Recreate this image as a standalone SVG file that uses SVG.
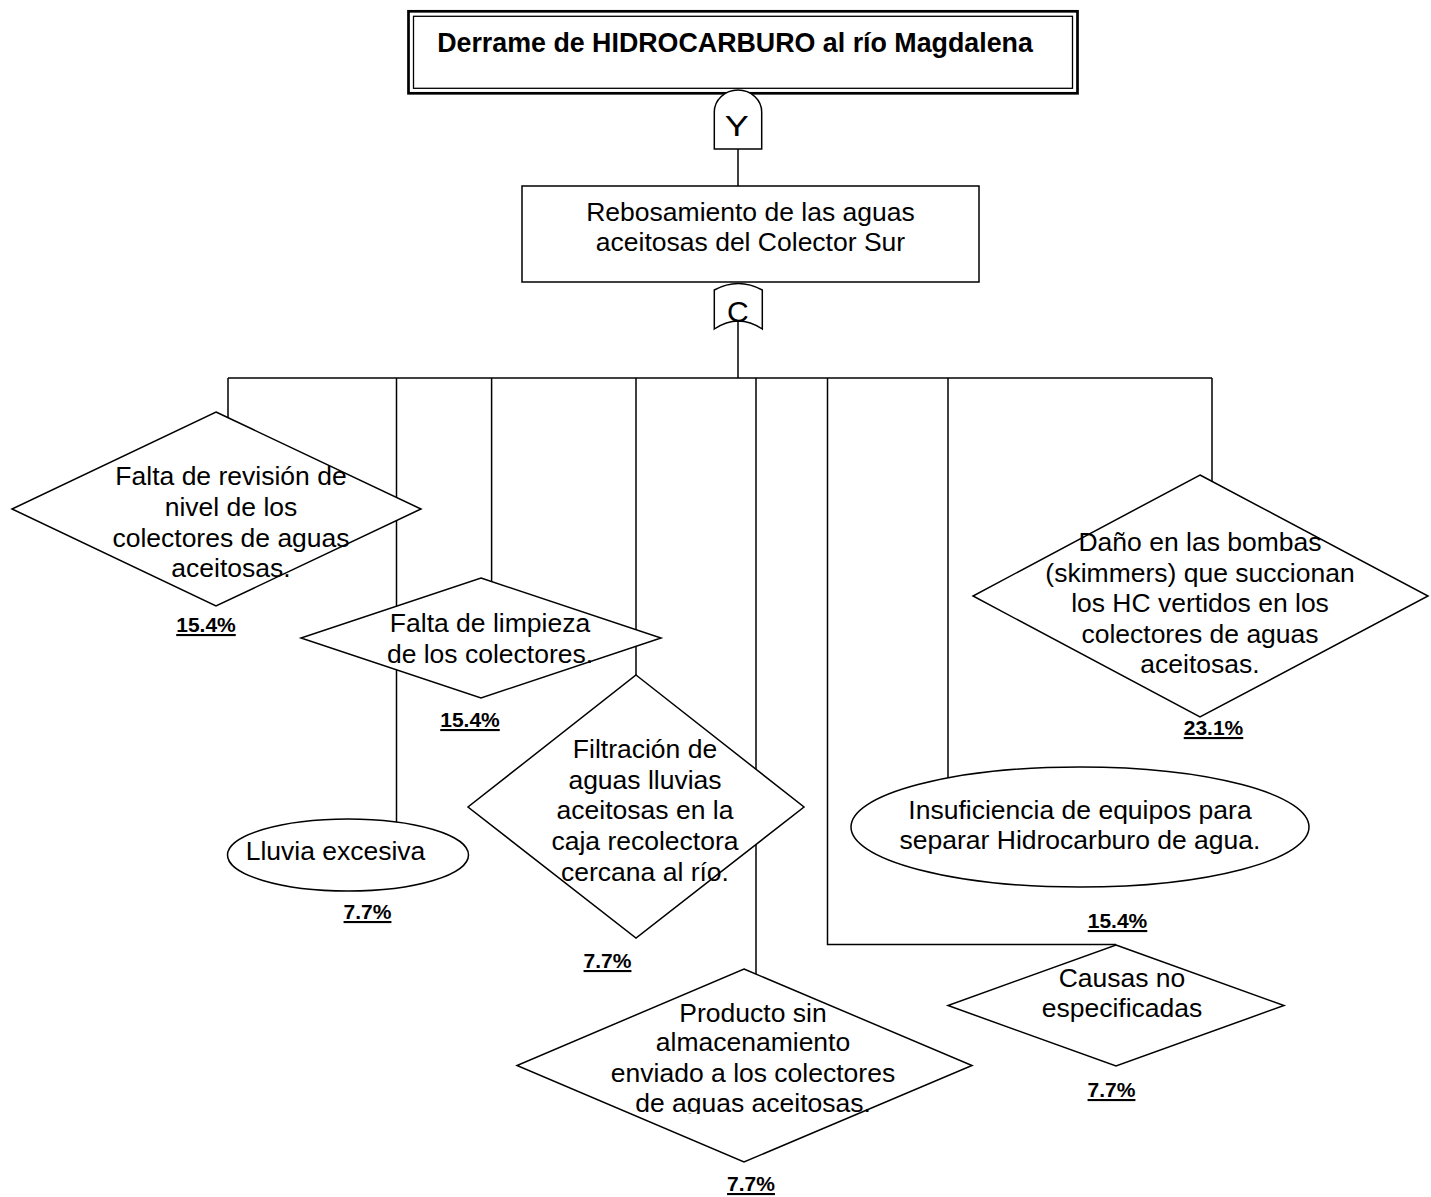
<svg xmlns="http://www.w3.org/2000/svg" width="1431" height="1197" viewBox="0 0 1431 1197">
<style>
  .shape { fill: #fff; stroke: #000; stroke-width: 1.5; }
  .wire { fill: none; stroke: #000; stroke-width: 1.5; }
  text { font-family: "Liberation Sans", Arial, sans-serif; fill: #000; }
  .lbl { font-size: 26.5px; text-anchor: middle; }
  .pct { font-size: 21px; font-weight: bold; text-anchor: middle; text-decoration: underline; }
  .title { font-size: 26.8px; font-weight: bold; text-anchor: middle; }
  .gate-letter { font-size: 30px; text-anchor: middle; }
</style>
<defs>
  <clipPath id="clip-producto">
    <rect x="500" y="980" width="500" height="134"/>
  </clipPath>
</defs>
<rect width="1431" height="1197" fill="#fff"/>

<!-- connectors: drawn first so node fills hide the parts that pass behind nodes -->
<g id="connectors" class="wire">
  <path d="M738,149 V186"/>
  <path d="M738,320 V378"/>
  <path d="M228,378 H1212"/>
  <path d="M228,378 V440"/>
  <path d="M396.5,378 V830"/>
  <path d="M491.6,378 V592"/>
  <path d="M636,378 V690"/>
  <path d="M756,378 V985"/>
  <path d="M827.5,378 V944.5 H1116"/>
  <path d="M948,378 V790"/>
  <path d="M1212,378 V495"/>
</g>

<!-- top event -->
<g id="top-event">
  <rect x="408.5" y="11.3" width="669" height="82" fill="#fff" stroke="#000" stroke-width="2.7"/>
  <rect x="413.5" y="16.3" width="659" height="72" fill="none" stroke="#000" stroke-width="1.3"/>
  <text class="title" x="735" y="52">Derrame de HIDROCARBURO al río Magdalena</text>
</g>

<!-- AND gate -->
<g id="gate-y">
  <path class="shape" d="M714.3,149 V112 A23.7,22 0 0 1 761.7,112 V149 Z"/>
  <text class="gate-letter" transform="translate(736.7,136) scale(1.2,1)">Y</text>
</g>

<!-- intermediate event -->
<g id="rebosamiento">
  <rect class="shape" x="522" y="186" width="457" height="96"/>
  <text class="lbl" x="750.5" y="221">Rebosamiento de las aguas</text>
  <text class="lbl" x="750.5" y="251">aceitosas del Colector Sur</text>
</g>

<!-- OR gate -->
<g id="gate-c">
  <path class="shape" d="M714.3,290 Q738.3,277 762.3,290 V329 Q738.3,313 714.3,329 Z"/>
  <text class="gate-letter" x="737.8" y="321.5">C</text>
</g>

<g id="falta-revision">
  <polygon class="shape" points="216,412 421,509 216,606 12,509"/>
  <text class="lbl" x="231" y="485">Falta de revisión de</text>
  <text class="lbl" x="231" y="516">nivel de los</text>
  <text class="lbl" x="231" y="547">colectores de aguas</text>
  <text class="lbl" x="231" y="577">aceitosas.</text>
  <text class="pct" x="206" y="632">15.4%</text>
</g>

<g id="falta-limpieza">
  <polygon class="shape" points="481,578 661,638 481,698 301,638"/>
  <text class="lbl" x="490" y="632">Falta de limpieza</text>
  <text class="lbl" x="490" y="663">de los colectores.</text>
  <text class="pct" x="470" y="727">15.4%</text>
</g>

<g id="lluvia">
  <ellipse class="shape" cx="348" cy="855" rx="120.5" ry="36"/>
  <text class="lbl" x="335.5" y="860">Lluvia excesiva</text>
  <text class="pct" x="367.5" y="919">7.7%</text>
</g>

<g id="filtracion">
  <polygon class="shape" points="636,675 804,807 636,938 468,807"/>
  <text class="lbl" x="645" y="758">Filtración de</text>
  <text class="lbl" x="645" y="789">aguas lluvias</text>
  <text class="lbl" x="645" y="819">aceitosas en la</text>
  <text class="lbl" x="645" y="850">caja recolectora</text>
  <text class="lbl" x="645" y="881">cercana al río.</text>
  <text class="pct" x="607.5" y="968">7.7%</text>
</g>

<g id="producto">
  <polygon class="shape" points="744,969 972,1065.5 744,1162 517,1065.5"/>
  <g clip-path="url(#clip-producto)">
    <text class="lbl" x="753" y="1022">Producto sin</text>
    <text class="lbl" x="753" y="1051">almacenamiento</text>
    <text class="lbl" x="753" y="1082">enviado a los colectores</text>
    <text class="lbl" x="753" y="1112">de aguas aceitosas.</text>
  </g>
  <text class="pct" x="751" y="1191">7.7%</text>
</g>

<g id="causas">
  <polygon class="shape" points="1116,945 1284,1005.5 1116,1066 948,1005.5"/>
  <text class="lbl" x="1122" y="987">Causas no</text>
  <text class="lbl" x="1122" y="1017">especificadas</text>
  <text class="pct" x="1111.5" y="1097">7.7%</text>
</g>

<g id="insuficiencia">
  <ellipse class="shape" cx="1080" cy="827" rx="229" ry="60"/>
  <text class="lbl" x="1080" y="819">Insuficiencia de equipos para</text>
  <text class="lbl" x="1080" y="849">separar Hidrocarburo de agua.</text>
  <text class="pct" x="1117.5" y="928">15.4%</text>
</g>

<g id="dano-bombas">
  <polygon class="shape" points="1200,475 1428,596 1200,717 973,596"/>
  <text class="lbl" x="1200" y="551">Daño en las bombas</text>
  <text class="lbl" x="1200" y="582">(skimmers) que succionan</text>
  <text class="lbl" x="1200" y="612">los HC vertidos en los</text>
  <text class="lbl" x="1200" y="643">colectores de aguas</text>
  <text class="lbl" x="1200" y="673">aceitosas.</text>
  <text class="pct" x="1213.5" y="735">23.1%</text>
</g>
</svg>
